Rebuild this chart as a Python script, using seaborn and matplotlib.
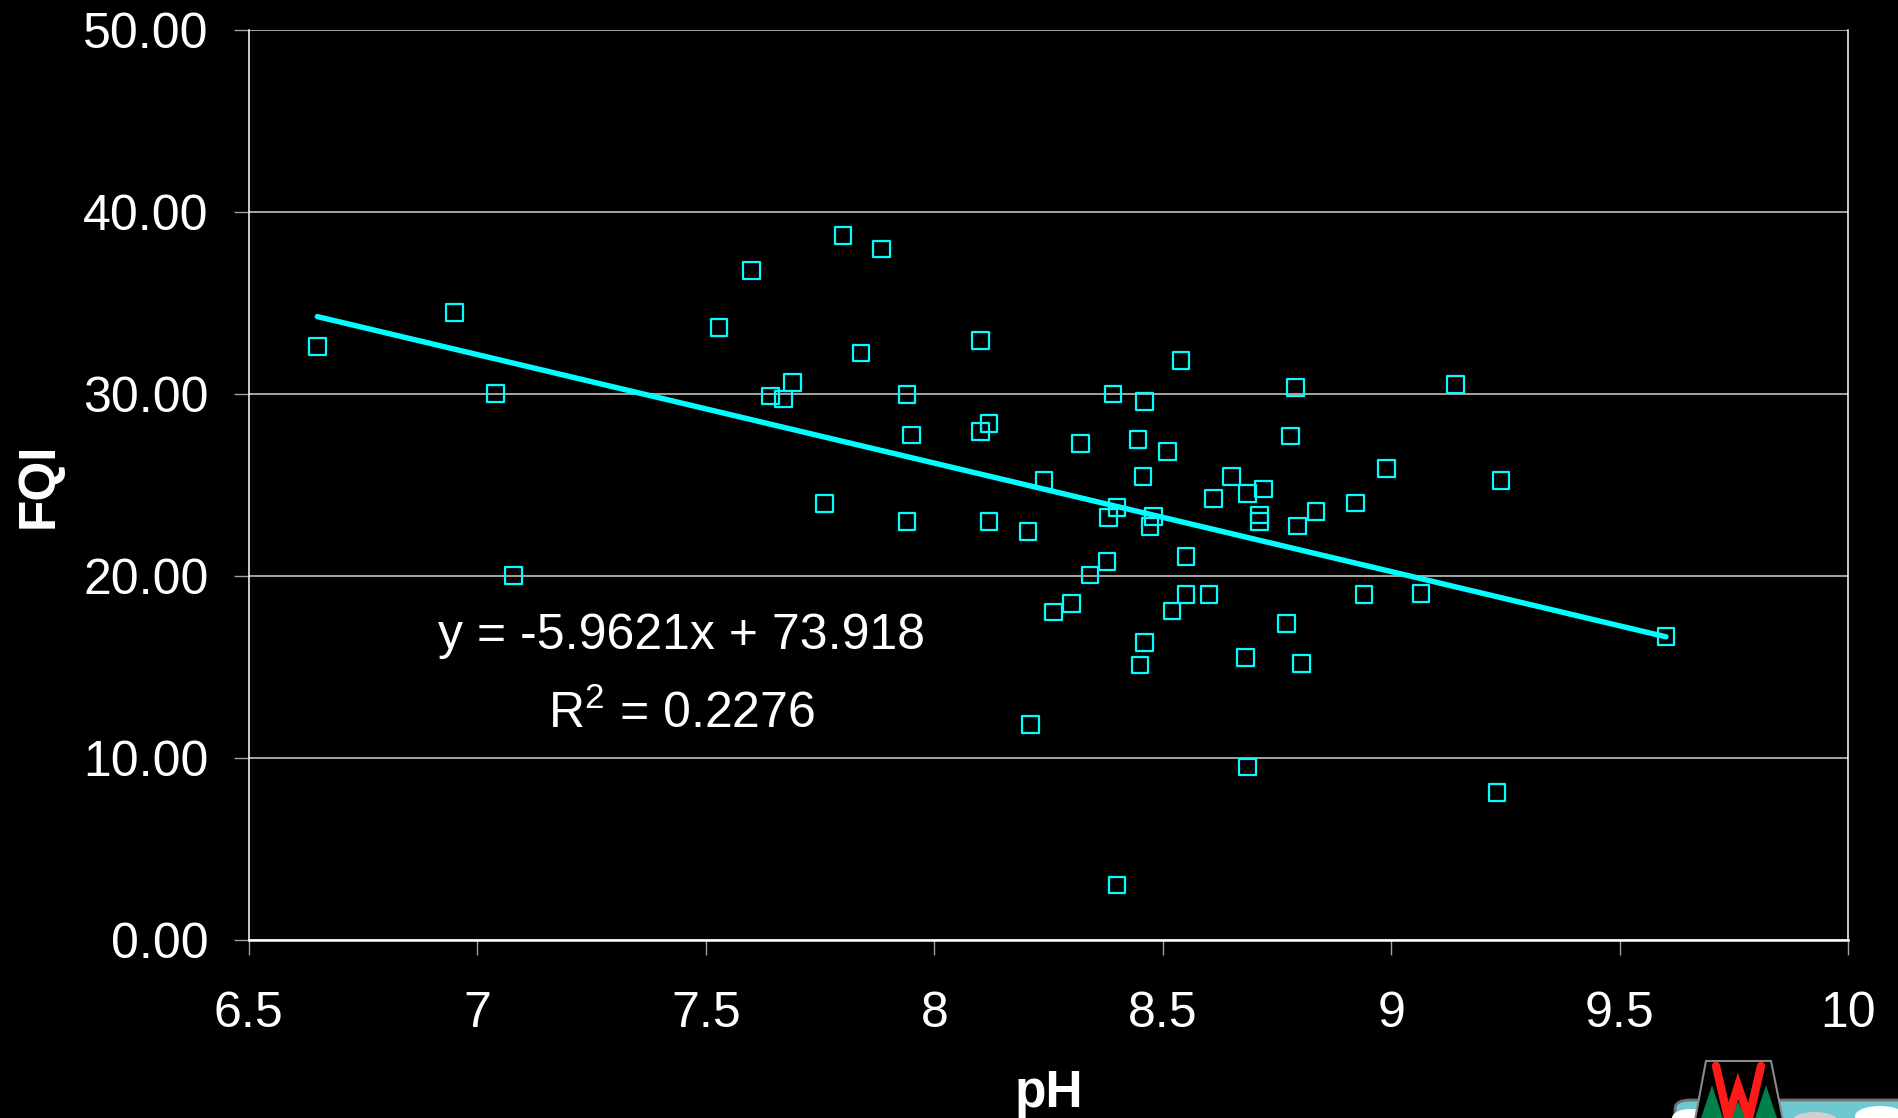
import numpy as np
import pandas as pd
import matplotlib
matplotlib.use("Agg")
import matplotlib.pyplot as plt
from matplotlib.patches import Polygon, FancyBboxPatch, Ellipse
from matplotlib.lines import Line2D
import seaborn as sns

# Lake survey: pH against Floristic Quality Index
ph = [6.650, 6.950, 7.040, 7.079, 7.529, 7.600, 7.641, 7.670, 7.690, 7.760,
      7.800, 7.840, 7.885, 7.940, 7.940, 7.950, 8.101, 8.101, 8.120, 8.120,
      8.205, 8.210, 8.240, 8.261, 8.301, 8.320, 8.341, 8.378, 8.381, 8.400,
      8.391, 8.400, 8.446, 8.450, 8.457, 8.460, 8.460, 8.472, 8.480, 8.511,
      8.520, 8.540, 8.551, 8.551, 8.601, 8.611, 8.650, 8.681, 8.686, 8.686,
      8.711, 8.711, 8.721, 8.771, 8.780, 8.791, 8.795, 8.804, 8.835, 8.921,
      8.940, 8.990, 9.065, 9.141, 9.231, 9.240, 9.601]
fqi = [32.62, 34.48, 30.05, 20.03, 33.66, 36.79, 29.91, 29.74, 30.66, 24.01,
       38.71, 32.27, 37.98, 30.00, 23.00, 27.76, 32.95, 27.95, 28.38, 23.00,
       22.47, 11.87, 25.27, 18.04, 18.50, 27.31, 20.07, 20.80, 23.24, 3.04,
       30.02, 23.79, 27.53, 15.13, 25.47, 16.37, 29.59, 22.73, 23.27, 26.85,
       18.09, 31.85, 21.08, 19.01, 19.01, 24.26, 25.47, 15.53, 9.52, 24.54,
       23.37, 23.00, 24.80, 17.42, 27.71, 30.36, 22.76, 15.20, 23.55, 24.03,
       18.99, 25.93, 19.07, 30.55, 8.11, 25.25, 16.68]

# Linear trendline as reported
slope = -5.9621
intercept = 73.918
r_squared = 0.2276

x_ticks = [6.5, 7, 7.5, 8, 8.5, 9, 9.5, 10]
x_tick_labels = ["6.5", "7", "7.5", "8", "8.5", "9", "9.5", "10"]
y_ticks = [0, 10, 20, 30, 40, 50]
y_tick_labels = ["0.00", "10.00", "20.00", "30.00", "40.00", "50.00"]

CYAN = "#00FFFF"

sns.set_theme(style="dark")
plt.rcParams["font.family"] = ["Liberation Sans", "DejaVu Sans"]
plt.rcParams["mathtext.fontset"] = "custom"
plt.rcParams["mathtext.rm"] = "Liberation Sans"
plt.rcParams["mathtext.it"] = "Liberation Sans:italic"
plt.rcParams["mathtext.bf"] = "Liberation Sans:bold"

fig = plt.figure(figsize=(18.98, 11.18), dpi=100, facecolor="black")
ax = fig.add_axes([0.13106, 0.15894, 0.84275, 0.81396])
ax.set_facecolor("black")

df = pd.DataFrame({"pH": ph, "FQI": fqi})
sns.scatterplot(data=df, x="pH", y="FQI", ax=ax, marker="s", s=144,
                facecolors="none", edgecolor=CYAN, linewidth=1.6, zorder=3)
ax.collections[0].set_facecolor("none")
ax.collections[0].set_edgecolor(CYAN)

fit_x = np.array([min(ph), max(ph)])
fit_y = slope * fit_x + intercept
sns.lineplot(x=fit_x, y=fit_y, ax=ax, color=CYAN, linewidth=3.9,
             solid_capstyle="round", zorder=4)

ax.set_xlim(6.5, 10)
ax.set_ylim(0, 50)
ax.set_xticks(x_ticks)
ax.set_xticklabels(x_tick_labels)
ax.set_yticks(y_ticks)
ax.set_yticklabels(y_tick_labels)

ax.grid(False)
ax.yaxis.grid(True, color="#cfcfcf", linewidth=1.1)
ax.set_axisbelow(True)

for side in ["left", "right"]:
    ax.spines[side].set_visible(True)
    ax.spines[side].set_color("white")
    ax.spines[side].set_linewidth(1.1)
ax.spines["bottom"].set_visible(True)
ax.spines["bottom"].set_color("white")
ax.spines["bottom"].set_linewidth(1.8)
ax.spines["top"].set_visible(False)

ax.tick_params(axis="x", which="major", direction="out", length=10.8, width=1.0,
               color="#a0a0a0", labelcolor="white", labelsize=36, pad=26,
               bottom=True)
ax.tick_params(axis="y", which="major", direction="out", length=10.8, width=1.0,
               color="#a0a0a0", labelcolor="white", labelsize=36, pad=18,
               left=True)

ax.set_xlabel("pH", fontsize=37, fontweight="bold", color="white")
ax.set_ylabel("FQI", fontsize=37, fontweight="bold", color="white")
ax.xaxis.set_label_coords(0.5, -0.141)
ax.yaxis.set_label_coords(-0.116, 0.5)

# Trendline equation
ax.text(7.446, 16.0, f"y = {slope}x + {intercept}", fontsize=36, color="white",
        ha="center", va="baseline")
ax.text(7.448, 11.69, f"R$^2$ = {r_squared}", fontsize=36, color="white",
        ha="center", va="baseline")

# Small emblem in the lower right corner
W, H = 1898.0, 1118.0


def fpt(x, y):
    return (x / W, (H - y) / H)


tf = fig.transFigure
fig.add_artist(FancyBboxPatch(fpt(1675, 1135), (1898 - 1675 + 20) / W, 35 / H,
                              boxstyle="round,pad=0,rounding_size=0.008",
                              transform=tf, facecolor="#6ec8d2",
                              edgecolor="#707070", linewidth=2))
for cx, cy, w, h, c in [(1690, 1118, 36, 18, "white"), (1880, 1116, 50, 20, "white"),
                        (1815, 1120, 44, 16, "#d0d0d0")]:
    fig.add_artist(Ellipse(fpt(cx, cy), w / W, h / H, transform=tf,
                           facecolor=c, edgecolor="none"))
fig.add_artist(Polygon([fpt(1706, 1061), fpt(1771, 1061), fpt(1784, 1125),
                        fpt(1694, 1125)], closed=True, transform=tf,
                       facecolor="black", edgecolor="#8a8a8a", linewidth=1.5))
for px, py, half in [(1712, 1083, 14), (1738, 1100, 12), (1766, 1083, 14)]:
    fig.add_artist(Polygon([fpt(px, py), fpt(px + half, 1125), fpt(px - half, 1125)],
                           closed=True, transform=tf, facecolor="#00804a",
                           edgecolor="black", linewidth=1))
wx = [1716, 1728, 1738, 1749, 1761]
wy = [1066, 1118, 1086, 1118, 1066]
fig.add_artist(Line2D([v / W for v in wx], [(H - v) / H for v in wy],
                      transform=tf, color="#ff1a1a", linewidth=6,
                      solid_joinstyle="miter"))

fig.savefig("out.png", dpi=100, facecolor="black")
